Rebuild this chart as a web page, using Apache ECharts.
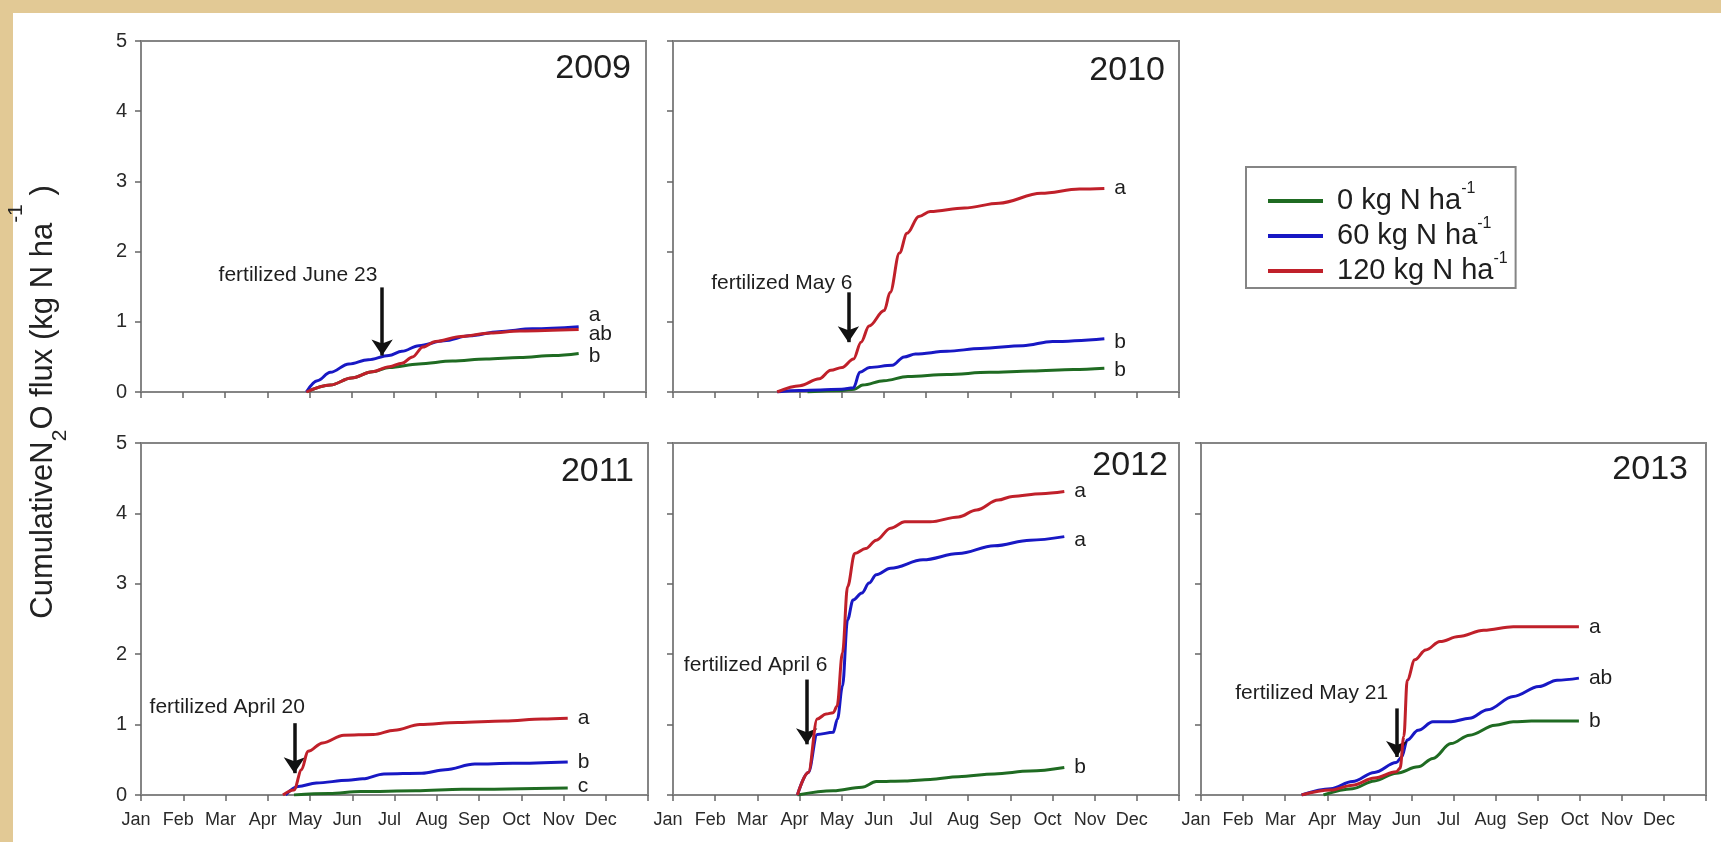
<!DOCTYPE html>
<html>
<head>
<meta charset="utf-8">
<script src="https://cdn.jsdelivr.net/npm/echarts@6/dist/echarts.min.js"></script>
<style>
  html, body { margin: 0; padding: 0; background: #e2c995; }
  #chart { width: 1721px; height: 842px; }
</style>
</head>
<body>
<div id="chart"></div>
<script>
// ---- data -------------------------------------------------------------
// x = months since Jan 1 (fractional), y = cumulative N2O flux (kg N ha-1)
const MONTHS = ['Jan', 'Feb', 'Mar', 'Apr', 'May', 'Jun', 'Jul', 'Aug', 'Sep', 'Oct', 'Nov', 'Dec'];
const YEARS = ['2009', '2010', '2011', '2012', '2013'];
const TREATMENTS = ['0 kg N ha', '60 kg N ha', '120 kg N ha'];

const n0_2009 = [[3.93,0],[4.5,0.1],[5.0,0.2],[5.5,0.29],[5.9,0.35],[6.6,0.4],[7.4,0.44],[8.2,0.47],[9.0,0.49],[9.8,0.52],[10.4,0.55]];
const n60_2009 = [[3.93,0],[4.19,0.16],[4.5,0.28],[4.94,0.4],[5.4,0.46],[5.89,0.52],[6.2,0.58],[6.6,0.66],[7.2,0.73],[7.8,0.8],[8.5,0.86],[9.3,0.9],[10.4,0.93]];
const n120_2009 = [[3.93,0],[4.5,0.1],[5.0,0.2],[5.5,0.29],[5.9,0.36],[6.2,0.41],[6.45,0.5],[6.7,0.64],[7.0,0.72],[7.6,0.79],[8.3,0.84],[9.0,0.87],[10.4,0.89]];

const n0_2010 = [[3.19,0],[4.0,0.02],[4.3,0.04],[4.5,0.1],[5.0,0.16],[5.57,0.22],[6.5,0.25],[7.5,0.28],[8.5,0.3],[9.5,0.32],[10.23,0.34]];
const n60_2010 = [[2.47,0],[3.0,0.02],[3.5,0.03],[4.0,0.04],[4.28,0.06],[4.43,0.28],[4.66,0.35],[5.2,0.38],[5.48,0.5],[5.75,0.54],[6.5,0.58],[7.3,0.62],[8.3,0.66],[9.0,0.72],[10.23,0.76]];
const n120_2010 = [[2.47,0],[3.01,0.09],[3.47,0.19],[3.74,0.31],[4.01,0.35],[4.28,0.47],[4.46,0.71],[4.65,0.94],[5.01,1.16],[5.15,1.42],[5.37,1.98],[5.55,2.26],[5.83,2.5],[6.1,2.57],[6.91,2.62],[7.73,2.69],[8.73,2.83],[9.64,2.89],[10.23,2.9]];

const n0_2011 = [[3.62,0],[4.45,0.02],[5.2,0.05],[6.5,0.06],[7.6,0.08],[10.1,0.1]];
const n60_2011 = [[3.42,0],[3.72,0.12],[4.15,0.17],[4.9,0.21],[5.25,0.23],[5.75,0.3],[6.65,0.31],[7.2,0.36],[7.9,0.44],[8.8,0.45],[10.1,0.47]];
const n120_2011 = [[3.36,0],[3.62,0.07],[3.8,0.36],[3.95,0.62],[4.3,0.74],[4.8,0.85],[5.5,0.86],[6.0,0.92],[6.6,1.0],[7.5,1.03],[8.6,1.05],[9.5,1.08],[10.1,1.09]];

const n0_2012 = [[2.95,0],[3.8,0.06],[4.48,0.11],[4.82,0.19],[5.5,0.2],[6.1,0.22],[6.77,0.26],[7.62,0.3],[8.47,0.34],[9.28,0.39]];
const n60_2012 = [[2.95,0],[3.21,0.32],[3.42,0.86],[3.8,0.89],[3.9,1.08],[4.02,1.55],[4.14,2.49],[4.27,2.77],[4.48,2.87],[4.65,3.01],[4.82,3.13],[5.16,3.22],[5.93,3.34],[6.77,3.43],[7.62,3.54],[8.47,3.62],[9.28,3.67]];
const n120_2012 = [[2.95,0],[3.21,0.32],[3.42,1.08],[3.63,1.15],[3.8,1.17],[3.89,1.26],[4.02,2.02],[4.14,2.96],[4.31,3.43],[4.57,3.5],[4.82,3.62],[5.16,3.79],[5.5,3.88],[6.1,3.88],[6.77,3.95],[7.2,4.05],[7.71,4.19],[8.05,4.24],[8.73,4.28],[9.28,4.31]];

const n0_2013 = [[2.91,0],[3.6,0.09],[4.12,0.2],[4.64,0.31],[5.16,0.4],[5.51,0.52],[5.94,0.73],[6.38,0.85],[6.99,0.99],[7.42,1.04],[7.85,1.05],[8.98,1.05]];
const n60_2013 = [[2.39,0],[3.08,0.09],[3.6,0.19],[4.12,0.32],[4.64,0.46],[4.77,0.54],[4.9,0.78],[5.16,0.92],[5.51,1.04],[5.94,1.04],[6.38,1.09],[6.81,1.21],[7.42,1.4],[8.03,1.54],[8.46,1.63],[8.98,1.66]];
const n120_2013 = [[2.39,0],[3.08,0.07],[3.6,0.14],[4.12,0.24],[4.64,0.33],[4.73,0.38],[4.82,0.83],[4.9,1.63],[5.08,1.92],[5.34,2.06],[5.68,2.18],[6.12,2.25],[6.72,2.34],[7.42,2.39],[8.98,2.39]];

// significance letters per year, in treatment order 0 / 60 / 120
const letters2009 = ['b', 'a', 'ab'];
const letters2010 = ['b', 'b', 'a'];
const letters2011 = ['c', 'b', 'a'];
const letters2012 = ['b', 'a', 'a'];
const letters2013 = ['b', 'ab', 'a'];

// fertilizer application per year: date text and month position
const fertDates = ['June 23', 'May 6', 'April 20', 'April 6', 'May 21'];
const fertMonth = [5.73, 4.16, 3.63, 3.17, 4.65];

// ---- layout & style ---------------------------------------------------
const FONT = '"Liberation Sans", Arial, Helvetica, sans-serif';
const COLORS = ['#1f6b22', '#1818c4', '#c0202a'];
const AXIS_GRAY = '#858585';
const INK = '#1e1e1e';

const panels = [
  { year: YEARS[0], series: [n0_2009, n60_2009, n120_2009], letters: letters2009, letterDy: [3, -12, 5],
    grid: { left: 141, top: 41, width: 505, height: 351 }, showY: true, showX: false,
    arrow: [1.49, 0.52], text: [3.73, 1.66], yearRight: 1090, yearTop: 52 },
  { year: YEARS[1], series: [n0_2010, n60_2010, n120_2010], letters: letters2010, letterDy: [2, 4, 0],
    grid: { left: 673, top: 41, width: 506, height: 351 }, showY: false, showX: false,
    arrow: [1.42, 0.71], text: [2.58, 1.55], yearRight: 556, yearTop: 54 },
  { year: YEARS[2], series: [n0_2011, n60_2011, n120_2011], letters: letters2011, letterDy: [-2, 0, 0],
    grid: { left: 141, top: 443, width: 507, height: 352 }, showY: true, showX: true,
    arrow: [1.02, 0.31], text: [2.04, 1.25], yearRight: 1087, yearTop: 455 },
  { year: YEARS[3], series: [n0_2012, n60_2012, n120_2012], letters: letters2012, letterDy: [0, 4, 0],
    grid: { left: 673, top: 443, width: 506, height: 352 }, showY: false, showX: true,
    arrow: [1.64, 0.72], text: [1.96, 1.85], yearRight: 553, yearTop: 449 },
  { year: YEARS[4], series: [n0_2013, n60_2013, n120_2013], letters: letters2013, letterDy: [0, 0, 0],
    grid: { left: 1201, top: 443, width: 505, height: 352 }, showY: false, showX: true,
    arrow: [1.23, 0.54], text: [2.63, 1.44], yearRight: 33, yearTop: 453 }
];

const grids = [], xAxes = [], yAxes = [], series = [], titles = [];

panels.forEach((p, i) => {
  grids.push(Object.assign({
    show: true, borderColor: AXIS_GRAY, borderWidth: 2, backgroundColor: '#ffffff', containLabel: false
  }, p.grid));

  xAxes.push({
    type: 'value', gridIndex: i, min: 0, max: 12, interval: 1,
    axisLine: { show: true, lineStyle: { color: AXIS_GRAY, width: 2 } },
    axisTick: { show: true, inside: false, length: 6, lineStyle: { color: '#666', width: 1.5 } },
    splitLine: { show: false },
    axisLabel: {
      show: p.showX, margin: 16, fontFamily: FONT, fontSize: 18, color: '#2a2a2a',
      padding: [0, 10, 0, 0],
      formatter: v => (v >= 0 && v < 12 ? MONTHS[v] : '')
    }
  });

  yAxes.push({
    type: 'value', gridIndex: i, min: 0, max: 5, interval: 1,
    axisLine: { show: true, lineStyle: { color: AXIS_GRAY, width: 2 } },
    axisTick: { show: true, inside: false, length: 6, lineStyle: { color: '#666', width: 1.5 } },
    splitLine: { show: false },
    axisLabel: { show: p.showY, margin: 14, fontFamily: FONT, fontSize: 20, color: '#2a2a2a' }
  });

  titles.push({
    text: p.year, right: p.yearRight, top: p.yearTop, padding: 0,
    textStyle: { fontFamily: FONT, fontSize: 34, fontWeight: 'normal', color: INK }
  });

  p.series.forEach((data, t) => {
    const s = {
      type: 'line', name: TREATMENTS[t], xAxisIndex: i, yAxisIndex: i,
      data: data, smooth: 0.35, smoothMonotone: 'x', showSymbol: false, symbol: 'none',
      color: COLORS[t], lineStyle: { color: COLORS[t], width: 3 },
      z: 3 + t, silent: true,
      endLabel: {
        show: true, formatter: p.letters[t], distance: 10, offset: [0, p.letterDy[t]],
        fontFamily: FONT, fontSize: 21, color: INK
      }
    };
    if (t === 2) {
      const fx = fertMonth[i];
      s.markLine = {
        silent: true, animation: false,
        symbol: ['none', 'arrow'], symbolSize: 16,
        lineStyle: { color: '#111', width: 3.5, type: 'solid' },
        label: { show: false },
        emphasis: { disabled: true },
        data: [[{ coord: [fx, p.arrow[0]] }, { coord: [fx, p.arrow[1]] }]]
      };
      s.markPoint = {
        silent: true, animation: false, symbol: 'circle', symbolSize: 1,
        itemStyle: { color: 'rgba(0,0,0,0)' },
        label: {
          show: true, position: 'inside', formatter: '{b}',
          fontFamily: FONT, fontSize: 21, color: INK
        },
        data: [{ name: 'fertilized ' + fertDates[i], coord: p.text }]
      };
    }
    series.push(s);
  });
});

const option = {
  animation: false,
  backgroundColor: '#e2c995',
  title: titles,
  legend: {
    data: TREATMENTS, orient: 'vertical', left: 1246, top: 167,
    padding: [14, 8, 3, 22], itemGap: 1, itemWidth: 55, itemHeight: 4,
    icon: 'rect', borderColor: AXIS_GRAY, borderWidth: 2, backgroundColor: '#ffffff',
    selectedMode: false,
    formatter: name => '{m|' + name + '}{sup|-1}',
    textStyle: {
      fontFamily: FONT, color: INK,
      rich: {
        m: { fontFamily: FONT, fontSize: 29, lineHeight: 28, verticalAlign: 'bottom', padding: [0, 0, 0, 9], color: INK },
        sup: { fontFamily: FONT, fontSize: 16, lineHeight: 16, verticalAlign: 'bottom', padding: [0, 0, 18, 0], color: INK }
      }
    }
  },
  grid: grids,
  xAxis: xAxes,
  yAxis: yAxes,
  series: series,
  graphic: [
    { type: 'rect', z: -10, silent: true, shape: { x: 13, y: 13, width: 1708, height: 829 }, style: { fill: '#ffffff' } },
    {
      type: 'text', x: 54, y: 402, rotation: Math.PI / 2, silent: true, z: 10,
      style: {
        text: '{m|CumulativeN}{sub|2}{m|O flux (kg N ha}{sup|-1}{m| )}',
        align: 'center', verticalAlign: 'middle', fill: '#222',
        rich: {
          m: { fontFamily: FONT, fontSize: 31, lineHeight: 34, verticalAlign: 'bottom', padding: [0, 0, 12, 0], fill: '#222' },
          sub: { fontFamily: FONT, fontSize: 21, lineHeight: 22, verticalAlign: 'bottom', fill: '#222' },
          sup: { fontFamily: FONT, fontSize: 21, lineHeight: 21, verticalAlign: 'bottom', padding: [0, 0, 44, 0], fill: '#222' }
        }
      }
    }
  ]
};

const chart = echarts.init(document.getElementById('chart'), null, { renderer: 'canvas' });
chart.setOption(option);
</script>
</body>
</html>
